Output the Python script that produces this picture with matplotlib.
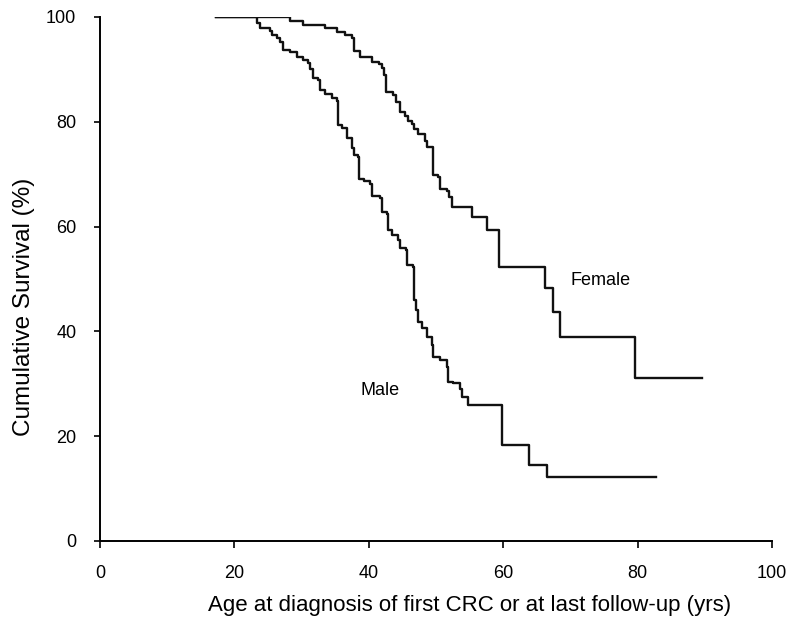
import matplotlib
matplotlib.use("Agg")
import matplotlib.pyplot as plt

# Kaplan-Meier steps: age where the curve drops, level after the drop
female_age = [17.3, 28.3, 30.2, 33.5, 35.3, 36.5, 37.5, 37.8, 38.7, 40.5, 41.5,
              42.0, 42.3, 42.6, 43.6, 44.0, 44.6, 45.4, 45.8, 46.4, 46.7, 47.3,
              48.4, 48.7, 49.5, 50.3, 50.6, 51.6, 52.0, 52.4, 55.4, 57.6, 59.4,
              66.2, 67.4, 68.5, 79.6, 89.6]
female_surv = [100, 99.3, 98.5, 97.9, 97.1, 96.6, 96.0, 93.5, 92.4, 91.4, 91.0,
               90.3, 88.9, 85.7, 85.1, 83.8, 81.9, 81.1, 80.2, 79.6, 78.6, 77.7,
               76.3, 75.2, 69.8, 69.5, 67.2, 66.8, 65.6, 63.7, 61.8, 59.4, 52.3,
               48.3, 43.7, 38.9, 31.1, 31.1]

male_age = [17.3, 23.4, 23.8, 25.3, 25.6, 26.3, 26.8, 27.2, 28.3, 29.3, 30.2,
            31.0, 31.3, 31.7, 32.4, 32.7, 33.5, 34.5, 35.3, 35.4, 36.0, 36.8,
            37.5, 37.8, 38.4, 38.5, 39.3, 40.2, 40.5, 41.7, 42.0, 42.7, 42.9,
            43.5, 44.3, 44.6, 45.5, 45.7, 46.6, 46.7, 47.0, 47.3, 47.9, 48.7,
            49.4, 49.6, 50.6, 51.6, 51.8, 52.5, 53.6, 53.9, 54.8, 59.8, 63.8,
            66.5, 82.7]
male_surv = [100, 98.9, 97.9, 97.3, 96.6, 96.0, 95.2, 93.7, 93.3, 92.4, 91.8,
             91.2, 90.1, 88.4, 88.0, 86.1, 85.3, 84.5, 84.0, 79.4, 78.8, 76.9,
             75.0, 73.7, 73.3, 69.1, 68.7, 68.1, 65.8, 65.5, 62.8, 62.4, 59.4,
             58.4, 57.4, 55.9, 55.5, 52.7, 52.3, 46.0, 44.1, 41.8, 40.6, 38.9,
             37.4, 35.1, 34.5, 33.2, 30.3, 30.2, 29.0, 27.5, 26.0, 18.3, 14.5,
             12.2, 12.2]

x_ticks = [0, 20, 40, 60, 80, 100]
y_ticks = [0, 20, 40, 60, 80, 100]

plt.rcParams["font.family"] = ["Liberation Sans", "DejaVu Sans"]

fig = plt.figure(figsize=(7.96, 6.26), dpi=100)
ax = fig.add_axes([0.1256, 0.1358, 0.8442, 0.8371])

ax.plot(female_age, female_surv, drawstyle="steps-post", color="#111111", lw=1.7)
ax.plot(male_age, male_surv, drawstyle="steps-post", color="#111111", lw=1.7)

ax.text(74.5, 49.8, "Female", fontsize=13, ha="center", va="center")
ax.text(41.7, 28.8, "Male", fontsize=13, ha="center", va="center")

ax.set_xlim(0, 100)
ax.set_ylim(0, 100)
ax.set_xticks(x_ticks)
ax.set_yticks(y_ticks)
ax.tick_params(axis="x", direction="out", length=5, width=1.2, labelsize=13, pad=12)
ax.tick_params(axis="y", direction="out", length=4, width=1.2, labelsize=13, pad=13)
for side in ["top", "right"]:
    ax.spines[side].set_visible(False)
for side in ["left", "bottom"]:
    ax.spines[side].set_linewidth(1.4)

ax.set_xlabel("Age at diagnosis of first CRC or at last follow-up (yrs)", fontsize=16)
ax.set_ylabel("Cumulative Survival (%)", fontsize=17.5)
ax.xaxis.set_label_coords(0.55, -0.103)
ax.yaxis.set_label_coords(-0.097, 0.447)

fig.savefig("out.png", dpi=100)
